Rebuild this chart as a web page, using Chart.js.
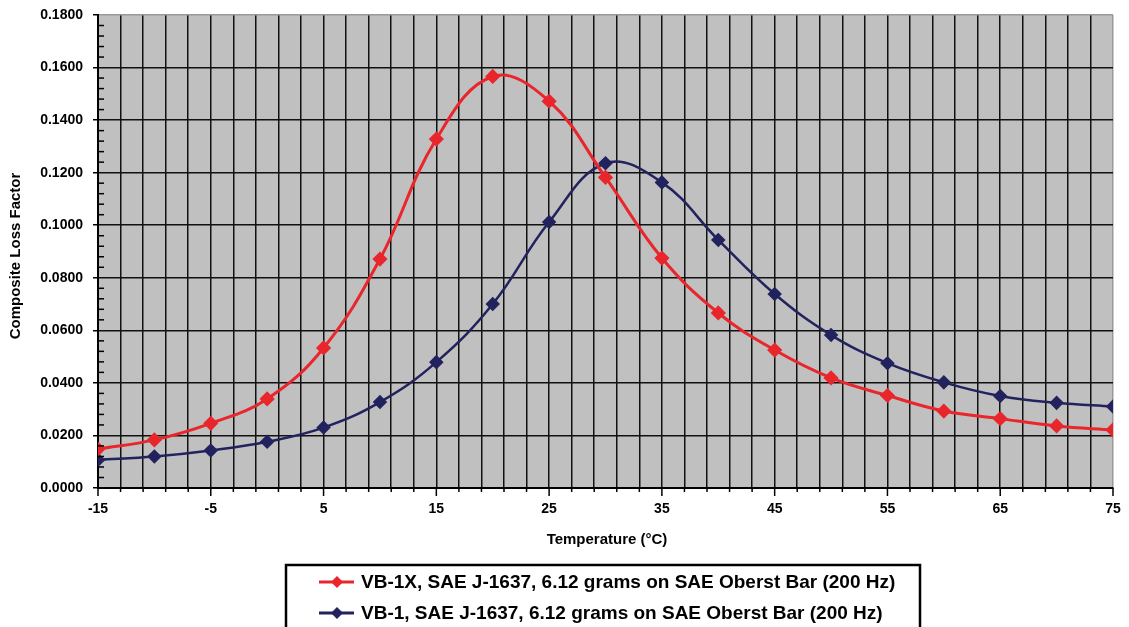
<!DOCTYPE html>
<html><head><meta charset="utf-8">
<script src="https://cdn.jsdelivr.net/npm/chart.js@4.4.1/dist/chart.umd.min.js"></script>
<style>html,body{margin:0;padding:0;background:#fff;}#wrap{width:1129px;height:627px;position:relative;}</style>
</head><body><div id="wrap"><canvas id="c" width="1129" height="627"></canvas></div>
<script>
const temperatures = [-15,-10,-5,0,5,10,15,20,25,30,35,40,45,50,55,60,65,70,75];
const vb1x = [0.0148,0.0183,0.0246,0.0339,0.0533,0.0871,0.1328,0.1566,0.1472,0.1182,0.0875,0.0666,0.0525,0.0419,0.0352,0.0293,0.0264,0.0236,0.0221];
const vb1  = [0.0107,0.0120,0.0143,0.0176,0.0230,0.0327,0.0479,0.0700,0.1012,0.1236,0.1163,0.0944,0.0738,0.0582,0.0475,0.0402,0.0350,0.0324,0.0310];
const seriesNames = ['VB-1X, SAE J-1637, 6.12 grams on SAE Oberst Bar (200 Hz)','VB-1, SAE J-1637, 6.12 grams on SAE Oberst Bar (200 Hz)'];
const xTickLabels = [-15,-5,5,15,25,35,45,55,65,75];
const yAxisTitle = 'Composite Loss Factor';
const xAxisTitle = 'Temperature (°C)';
const colors = ['#E8262B','#22225E'];

const FONT = '"Liberation Sans", Arial, sans-serif';

const deco = {
  id:'deco',
  beforeDraw(chart){
    const {ctx, chartArea:a} = chart;
    ctx.save();
    ctx.fillStyle='#C0C0C0';
    ctx.fillRect(a.left,a.top,a.right-a.left,a.bottom-a.top);
    ctx.restore();
  },
  afterDraw(chart){
    const {ctx, chartArea:a, scales} = chart;
    const xs = scales.x, ys = scales.y;
    ctx.save();
    ctx.strokeStyle='#000'; ctx.lineWidth=1.5;
    for(let v=-15; v<=75; v+=2){
      const px = xs.getPixelForValue(v);
      const lab = xTickLabels.includes(v);
      ctx.beginPath(); ctx.moveTo(px,a.bottom); ctx.lineTo(px,a.bottom+(lab?8:4)); ctx.stroke();
    }
    for(let i=0;i<=45;i++){
      const v=i*0.004;
      if(i%5===0) continue;
      const py = ys.getPixelForValue(v);
      ctx.beginPath(); ctx.moveTo(a.left,py); ctx.lineTo(a.left+6,py); ctx.stroke();
    }
    ctx.fillStyle='#000';
    ctx.font='bold 15px '+FONT;
    ctx.textAlign='center'; ctx.textBaseline='middle';
    ctx.fillText(xAxisTitle,607,540);
    ctx.save();
    ctx.translate(16,256);
    ctx.rotate(-Math.PI/2);
    ctx.font='bold 15px '+FONT;
    ctx.fillText(yAxisTitle,0,0);
    ctx.restore();
    ctx.lineWidth=2.5; ctx.strokeStyle='#000';
    ctx.strokeRect(286,565,634,70);
    const rows=[582,613];
    ctx.font='bold 19px '+FONT; ctx.textAlign='left';
    chart.data.datasets.forEach((ds,i)=>{
      const y=rows[i];
      ctx.strokeStyle=ds.borderColor; ctx.lineWidth=3;
      ctx.beginPath(); ctx.moveTo(319,y); ctx.lineTo(354,y); ctx.stroke();
      ctx.fillStyle=ds.borderColor;
      ctx.beginPath(); ctx.moveTo(337,y-6); ctx.lineTo(343,y); ctx.lineTo(337,y+6); ctx.lineTo(331,y); ctx.closePath(); ctx.fill();
      ctx.fillStyle='#000';
      ctx.fillText(ds.label,361,y+1);
    });
    ctx.restore();
  }
};

new Chart(document.getElementById('c'),{
  type:'line',
  data:{
    datasets:[
      {label:seriesNames[0],data:temperatures.map((t,i)=>({x:t,y:vb1x[i]})),borderColor:colors[0],backgroundColor:colors[0],borderWidth:3,pointStyle:'rectRot',pointRadius:5.5,pointHoverRadius:5.5,tension:0.4},
      {label:seriesNames[1],data:temperatures.map((t,i)=>({x:t,y:vb1[i]})),borderColor:colors[1],backgroundColor:colors[1],borderWidth:2.5,pointStyle:'rectRot',pointRadius:5.5,pointHoverRadius:5.5,tension:0.4}
    ]
  },
  options:{
    responsive:false,animation:false,
    layout:{padding:{top:15,right:16,left:0,bottom:0}},
    plugins:{legend:{display:false},tooltip:{enabled:false}},
    scales:{
      x:{type:'linear',min:-15,max:75,
        afterBuildTicks(s){const t=[];for(let v=-15;v<=75;v+=2)t.push({value:v});s.ticks=t;},
        afterFit(s){s.height=139;s.paddingLeft=0;s.paddingRight=0;},
        grid:{color:(c)=>c.tick&&c.tick.value===75?'#9a9a9a':'#111',lineWidth:1.5,drawTicks:false},
        border:{display:true,color:'#000',width:2},
        ticks:{autoSkip:false,maxRotation:0,padding:13,color:'#000',font:{family:FONT,size:14,weight:'bold'},
          callback:(v)=>xTickLabels.includes(v)?String(v):''}
      },
      y:{min:0,max:0.18,
        afterBuildTicks(s){const t=[];for(let i=0;i<=9;i++)t.push({value:+(i*0.02).toFixed(2)});s.ticks=t;},
        afterFit(s){s.width=98;s.paddingTop=0;s.paddingBottom=0;},
        grid:{color:(c)=>c.tick&&Math.abs(c.tick.value-0.18)<1e-9?'#9a9a9a':'#111',lineWidth:1.5,tickLength:5,tickColor:'#000'},
        border:{display:true,color:'#000',width:2},
        ticks:{padding:10,color:'#000',font:{family:FONT,size:14,weight:'bold'},callback:(v)=>v.toFixed(4)}
      }
    }
  },
  plugins:[deco]
});
</script></body></html>
